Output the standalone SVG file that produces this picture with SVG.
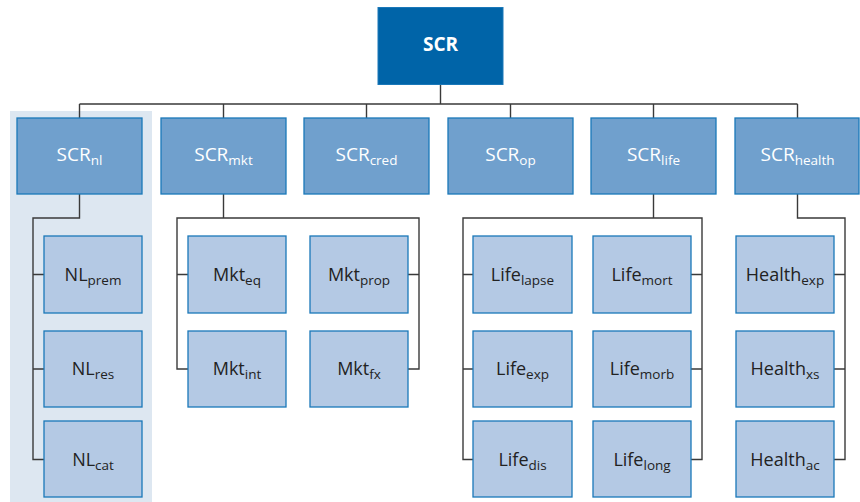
<svg xmlns="http://www.w3.org/2000/svg" width="860" height="502" viewBox="0 0 860 502">
<style>
.l1{fill:#70a0cd;stroke:#1a78b9;stroke-width:1.3}
.lf{fill:#b4c9e4;stroke:#1a78b9;stroke-width:1.3}
.c{fill:none;stroke:#3a3a3a;stroke-width:1.4}
.t1{font-family:"Open Sans","Noto Sans","Liberation Sans",sans-serif;font-size:19px;fill:#ffffff;text-anchor:middle}
.tl{font-family:"Open Sans","Noto Sans","Liberation Sans",sans-serif;font-size:18px;fill:#222222;text-anchor:middle}
.s{font-size:13.5px}
</style>
<rect x="10" y="111" width="142" height="391" fill="#dde7f1"/>
<g id="connectors">
<path class="c" d="M440.5 84V104M79.5 104H797.5M79.5 104V118M223.5 104V118M366.5 104V118M510.5 104V118M653.5 104V118M797.5 104V118"/>
<path class="c" d="M79.5 194V218H33V459.5H44M33 274.5H44M33 369H44"/>
<path class="c" d="M223.5 194V218H177V369H188M177 274.5H188M223.5 218H419V369H408M408 274.5H419"/>
<path class="c" d="M653.5 194V218H463V459.5H473M463 274.5H473M463 369H473M653.5 218H702V459.5H691M691 274.5H702M691 369H702"/>
<path class="c" d="M797.5 194V218H845V459.5H834M834 274.5H845M834 369H845"/>
</g>
<g id="scr"><rect x="378" y="7.5" width="125" height="77" fill="#0064a8" stroke="#1a78b9" stroke-width="1"/><text x="440.5" y="50.5" font-family="'Open Sans','Noto Sans','Liberation Sans',sans-serif" font-size="19" font-weight="bold" fill="#ffffff" text-anchor="middle">SCR</text></g>
<g id="scr_nl"><rect class="l1" x="17" y="118" width="125" height="76"/><text class="t1" x="79.5" y="161">SCR<tspan class="s" dy="4">nl</tspan></text></g>
<g id="scr_mkt"><rect class="l1" x="161" y="118" width="125" height="76"/><text class="t1" x="223.5" y="161">SCR<tspan class="s" dy="4">mkt</tspan></text></g>
<g id="scr_cred"><rect class="l1" x="304" y="118" width="125" height="76"/><text class="t1" x="366.5" y="161">SCR<tspan class="s" dy="4">cred</tspan></text></g>
<g id="scr_op"><rect class="l1" x="448" y="118" width="125" height="76"/><text class="t1" x="510.5" y="161">SCR<tspan class="s" dy="4">op</tspan></text></g>
<g id="scr_life"><rect class="l1" x="591" y="118" width="125" height="76"/><text class="t1" x="653.5" y="161">SCR<tspan class="s" dy="4">life</tspan></text></g>
<g id="scr_health"><rect class="l1" x="735" y="118" width="124" height="76"/><text class="t1" x="797.5" y="161">SCR<tspan class="s" dy="4">health</tspan></text></g>
<g id="nl_prem"><rect class="lf" x="44" y="236" width="98" height="77"/><text class="tl" x="93" y="281">NL<tspan class="s" dy="4">prem</tspan></text></g>
<g id="nl_res"><rect class="lf" x="44" y="331" width="98" height="76"/><text class="tl" x="93" y="375">NL<tspan class="s" dy="4">res</tspan></text></g>
<g id="nl_cat"><rect class="lf" x="44" y="421" width="98" height="76"/><text class="tl" x="93" y="466">NL<tspan class="s" dy="4">cat</tspan></text></g>
<g id="mkt_eq"><rect class="lf" x="188" y="236" width="98" height="77"/><text class="tl" x="237" y="281">Mkt<tspan class="s" dy="4">eq</tspan></text></g>
<g id="mkt_int"><rect class="lf" x="188" y="331" width="98" height="76"/><text class="tl" x="237" y="375">Mkt<tspan class="s" dy="4">int</tspan></text></g>
<g id="mkt_prop"><rect class="lf" x="310" y="236" width="98" height="77"/><text class="tl" x="359" y="281">Mkt<tspan class="s" dy="4">prop</tspan></text></g>
<g id="mkt_fx"><rect class="lf" x="310" y="331" width="98" height="76"/><text class="tl" x="359" y="375">Mkt<tspan class="s" dy="4">fx</tspan></text></g>
<g id="life_lapse"><rect class="lf" x="473" y="236" width="99" height="77"/><text class="tl" x="522.5" y="281">Life<tspan class="s" dy="4">lapse</tspan></text></g>
<g id="life_exp"><rect class="lf" x="473" y="331" width="99" height="76"/><text class="tl" x="522.5" y="375">Life<tspan class="s" dy="4">exp</tspan></text></g>
<g id="life_dis"><rect class="lf" x="473" y="421" width="99" height="76"/><text class="tl" x="522.5" y="466">Life<tspan class="s" dy="4">dis</tspan></text></g>
<g id="life_mort"><rect class="lf" x="593" y="236" width="98" height="77"/><text class="tl" x="642" y="281">Life<tspan class="s" dy="4">mort</tspan></text></g>
<g id="life_morb"><rect class="lf" x="593" y="331" width="98" height="76"/><text class="tl" x="642" y="375">Life<tspan class="s" dy="4">morb</tspan></text></g>
<g id="life_long"><rect class="lf" x="593" y="421" width="98" height="76"/><text class="tl" x="642" y="466">Life<tspan class="s" dy="4">long</tspan></text></g>
<g id="health_exp"><rect class="lf" x="736" y="236" width="98" height="77"/><text class="tl" x="785" y="281">Health<tspan class="s" dy="4">exp</tspan></text></g>
<g id="health_xs"><rect class="lf" x="736" y="331" width="98" height="76"/><text class="tl" x="785" y="375">Health<tspan class="s" dy="4">xs</tspan></text></g>
<g id="health_ac"><rect class="lf" x="736" y="421" width="98" height="76"/><text class="tl" x="785" y="466">Health<tspan class="s" dy="4">ac</tspan></text></g>
</svg>
